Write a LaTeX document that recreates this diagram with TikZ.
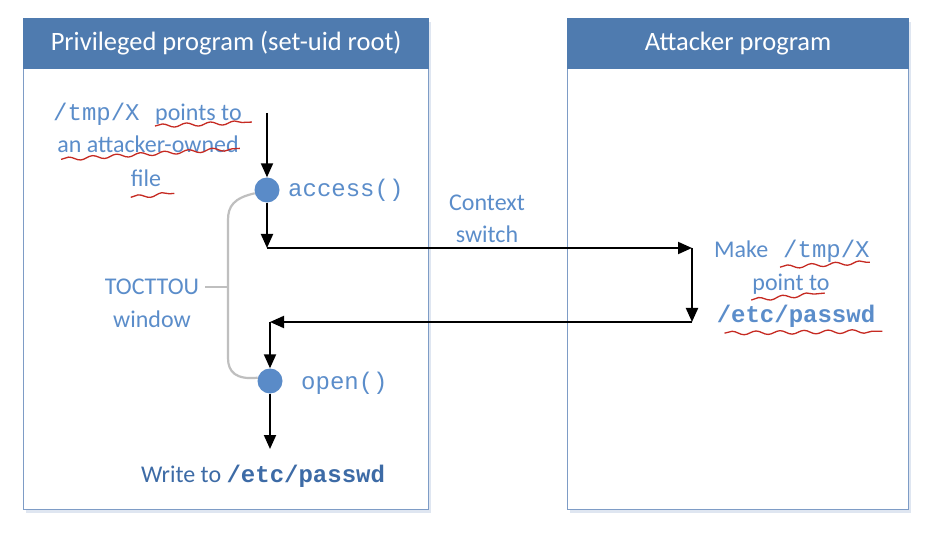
\documentclass[tikz,border=0pt]{standalone}
\usepackage{fontspec}
\setmainfont{Carlito}
\setsansfont{Carlito}
\setmonofont{Liberation Mono}
\usetikzlibrary{positioning,arrows.meta,decorations.pathmorphing,shadows}
\definecolor{headblue}{HTML}{4F7BAF}
\definecolor{boxline}{HTML}{7E9CC6}
\definecolor{txtblue}{HTML}{5B8DCA}
\definecolor{darkblue}{HTML}{3D6BA6}
\definecolor{dotblue}{HTML}{5A8BC8}
\definecolor{scribblered}{HTML}{C62A22}

\begin{document}
\begin{tikzpicture}
	[x=1pt,y=-1pt,
	progbox/.style={rectangle,draw=boxline,line width=1.2pt,fill=white,anchor=north west,inner sep=0pt,
		drop shadow={shadow xshift=2pt,shadow yshift=-3pt,opacity=0.25,fill=boxline}},
	headbar/.style={rectangle,draw=headblue,fill=headblue,text=white,anchor=north,inner sep=0pt,
		minimum height=50pt,font=\fontsize{26.5}{30}\selectfont},
	note/.style={text=txtblue,inner sep=0pt,font=\fontsize{24}{33}\selectfont},
	code/.style={text=txtblue,inner sep=0pt,font=\fontsize{24}{33}\selectfont\ttfamily},
	bcode/.style={text=txtblue,inner sep=0pt,font=\fontsize{24}{33}\selectfont\ttfamily\bfseries},
	dot/.style={circle,fill=dotblue,inner sep=0pt,minimum size=25pt},
	flow/.style={draw=black,line width=2pt,-{Triangle[length=14pt,width=12pt]}},
	bracket/.style={draw=black!25,line width=2.2pt},
	scribble/.style={draw=scribblered,line width=1.3pt,decorate,
		decoration={snake,amplitude=1.8pt,segment length=24pt}}]
	\useasboundingbox (0,0) rectangle (934,534);

	% the two programs
	\node [progbox,minimum width=405pt,minimum height=491pt] (priv) at (23,18) {};
	\node [headbar,minimum width=405pt] (privhead) at (priv.north) {Privileged program (set-uid root)};
	\node [progbox,minimum width=341pt,minimum height=491pt] (att) at (567,18) {};
	\node [headbar,minimum width=341pt] (atthead) at (att.north) {Attacker program};

	% privileged side
	\node [code,anchor=base west] (tmpx) at (53,121) {/tmp/X};
	\node [note,anchor=base west] (pts) at (155,121) {points to};
	\node [note,anchor=base] (own) at (148,153) {an attacker-owned};
	\node [note,anchor=base] (fil) at (146,187) {file};

	\node [dot] (acc) at (267,190) {};
	\node [code,anchor=base west] (acclbl) at (288,197) {access()};
	\node [dot] (opn) at (270,381) {};
	\node [code,anchor=base west] (opnlbl) at (301,389) {open()};

	\node [note,anchor=base] (toc) at (152,295) {TOCTTOU};
	\node [note,anchor=base] (win) at (152,328) {window};

	\node [note,anchor=base,text=darkblue] (wrt) at (263,482) {Write to {\ttfamily\bfseries /etc/passwd}};

	\node [note,anchor=base] (ctx) at (487,211) {Context};
	\node [note,anchor=base] (swt) at (487,243) {switch};

	% attacker side
	\node [note,anchor=base west] (mk) at (714,258) {Make};
	\node [code,anchor=base west] (tmpr) at (783,258) {/tmp/X};
	\node [note,anchor=base] (pnt) at (791,291) {point to};
	\node [bcode,anchor=base] (pwr) at (796,323) {/etc/passwd};

	% control flow
	\coordinate (top) at (267,113);
	\coordinate (turn1) at (267,248);
	\coordinate (turn2) at (692,248);
	\coordinate (turn3) at (692,322);
	\coordinate (turn4) at (270,322);
	\coordinate (bot) at (270,449);
	\draw [flow] (top) -- (acc);
	\draw [flow] (acc) -- (turn1);
	\draw [flow] (turn1) -- (turn2);
	\draw [flow] (turn2) -- (turn3);
	\draw [flow] (turn3) -- (turn4);
	\draw [flow] (turn4) -- (opn);
	\draw [flow] (opn) -- (bot);

	% TOCTTOU window
	\coordinate (tick) at (228,288);
	\draw [bracket] (acc.195) .. controls (234,198) and (228,206) .. (228,220) -- (228,358)
		.. controls (228,372) and (236,380) .. (opn.165);
	\draw [bracket,shorten <=6pt] (toc.east) -- (toc.east -| tick);

	% red scribbles
	\draw [scribble] ([yshift=-1pt]pts.south west) -- ([xshift=10pt,yshift=3pt]pts.south east);
	\draw [scribble] ([xshift=4pt,yshift=-6pt]own.south west) -- ([xshift=1pt,yshift=5pt]own.south east);
	\draw [scribble] ([yshift=-10pt]fil.south west) -- ([xshift=13pt,yshift=-6pt]fil.south east);
	\draw [scribble] ([xshift=-3pt,yshift=-4pt]tmpr.south west) -- ([yshift=1pt]tmpr.south east);
	\draw [scribble] ([xshift=-1pt,yshift=-5pt]pnt.south west) -- ([xshift=-5pt,yshift=2pt]pnt.south east);
	\draw [scribble] ([xshift=8pt,yshift=-5pt]pwr.south west) -- ([xshift=7pt,yshift=-3pt]pwr.south east);
\end{tikzpicture}
\end{document}
